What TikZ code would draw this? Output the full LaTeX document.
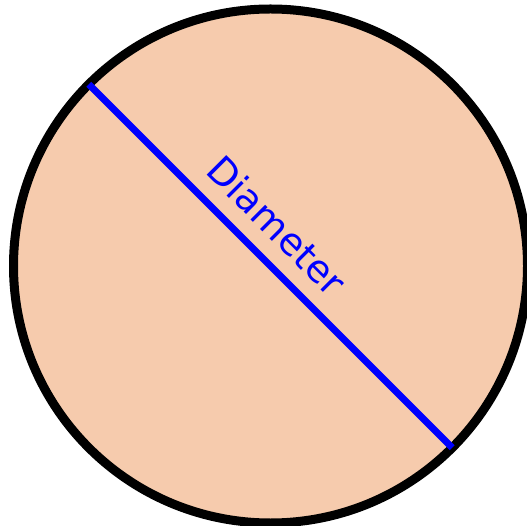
\documentclass[tikz,border=0pt]{standalone}
\usepackage{fontspec}
\setmainfont{DejaVu Sans}
\definecolor{peach}{RGB}{246,203,173}
\begin{document}
\begin{tikzpicture}[x=1pt,y=1pt,
  disc/.style={circle, draw=black, line width=9pt, fill=peach, minimum size=514pt, inner sep=0pt, outer sep=0pt},
  diam/.style={draw=blue, line width=7pt},
  lbl/.style={text=blue, font=\fontsize{38}{42}\selectfont, rotate=-45, inner sep=0pt, anchor=base}]
\useasboundingbox (0,0) rectangle (527,525);
\node[disc] (c) at (270.5,259) {};
\draw[diam] (c.135) -- (c.-45);
\node[lbl] (t) at (267,289.5) {Diameter};
\end{tikzpicture}
\end{document}
